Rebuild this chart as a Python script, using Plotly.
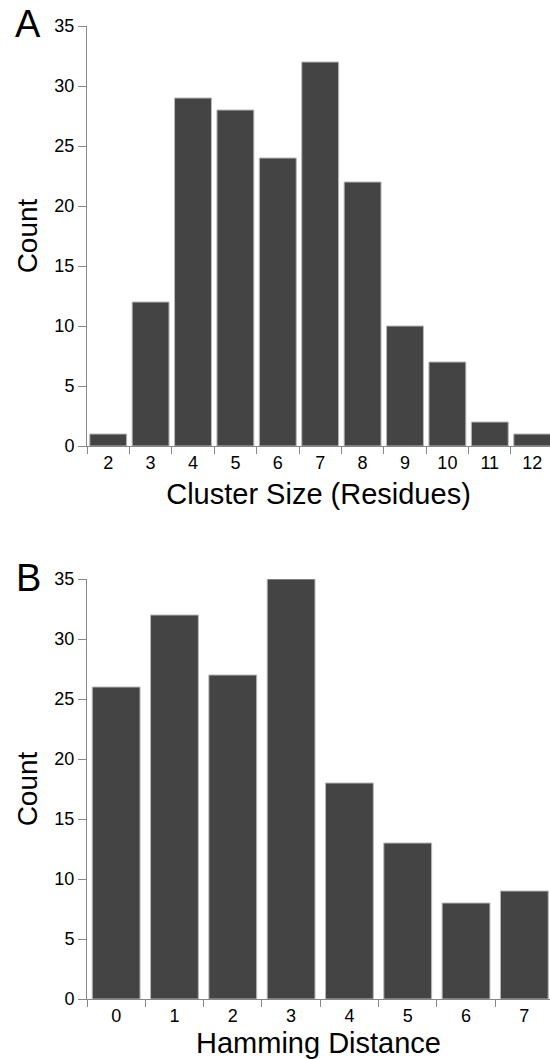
import plotly.graph_objects as go

cluster_sizes = ["2", "3", "4", "5", "6", "7", "8", "9", "10", "11", "12"]
cluster_counts = [1, 12, 29, 28, 24, 32, 22, 10, 7, 2, 1]

hamming_dist = ["0", "1", "2", "3", "4", "5", "6", "7"]
hamming_counts = [26, 32, 27, 35, 18, 13, 8, 9]

y_ticks = [0, 5, 10, 15, 20, 25, 30, 35]

W, H = 550, 1059
FONT = "Liberation Sans, Arial, Helvetica, sans-serif"
BAR = "#444444"
EDGE = "#b8b8b8"
AX = "#888888"

fig = go.Figure()
fig.add_trace(go.Bar(x=cluster_sizes, y=cluster_counts, xaxis="x", yaxis="y",
                     width=0.87,
                     marker=dict(color=BAR, line=dict(color=EDGE, width=1))))
fig.add_trace(go.Bar(x=hamming_dist, y=hamming_counts, xaxis="x2", yaxis="y2",
                     width=0.82,
                     marker=dict(color=BAR, line=dict(color=EDGE, width=1))))

x0 = 87 / W
top_dom = [1 - 446 / H, 1 - 26 / H]
bot_dom = [1 - 999 / H, 1 - 579 / H]

common_x = dict(showline=True, linecolor=AX, linewidth=1, ticks="outside",
                tickson="boundaries", ticklen=7, tickcolor=AX, showgrid=False,
                tickfont=dict(size=18, color="black", family=FONT),
                title_font=dict(size=29, color="black", family=FONT),
                zeroline=False, automargin=False)
common_y = dict(showline=True, linecolor=AX, linewidth=1, ticks="outside",
                ticklen=8, tickcolor=AX, showgrid=False, range=[0, 35],
                tickvals=y_ticks, tickfont=dict(size=18, color="black", family=FONT),
                title_font=dict(size=28, color="black", family=FONT),
                zeroline=False, automargin=False)

fig.update_layout(
    width=W, height=H,
    margin=dict(l=0, r=0, t=0, b=0),
    paper_bgcolor="white", plot_bgcolor="white",
    showlegend=False,
    xaxis=dict(domain=[x0, 1], anchor="y", range=[-0.5, 10.42],
               title=dict(text="Cluster Size (Residues)", standoff=12), **common_x),
    yaxis=dict(domain=top_dom, anchor="x",
               title=dict(text="Count", standoff=8), **common_y),
    xaxis2=dict(domain=[x0, 1], anchor="y2", range=[-0.5, 7.44],
                title=dict(text="Hamming Distance", standoff=9), **common_x),
    yaxis2=dict(domain=bot_dom, anchor="x2",
                title=dict(text="Count", standoff=8), **common_y),
    annotations=[
        dict(text="A", x=28 / W, y=1 - 24 / H, xref="paper", yref="paper",
             showarrow=False, font=dict(size=38, family=FONT, color="black"),
             xanchor="center", yanchor="middle"),
        dict(text="B", x=28 / W, y=1 - 578 / H, xref="paper", yref="paper",
             showarrow=False, font=dict(size=38, family=FONT, color="black"),
             xanchor="center", yanchor="middle"),
    ],
)

fig.write_html("out.html", config={"displayModeBar": False},
               post_script="document.body.style.margin='0';")
